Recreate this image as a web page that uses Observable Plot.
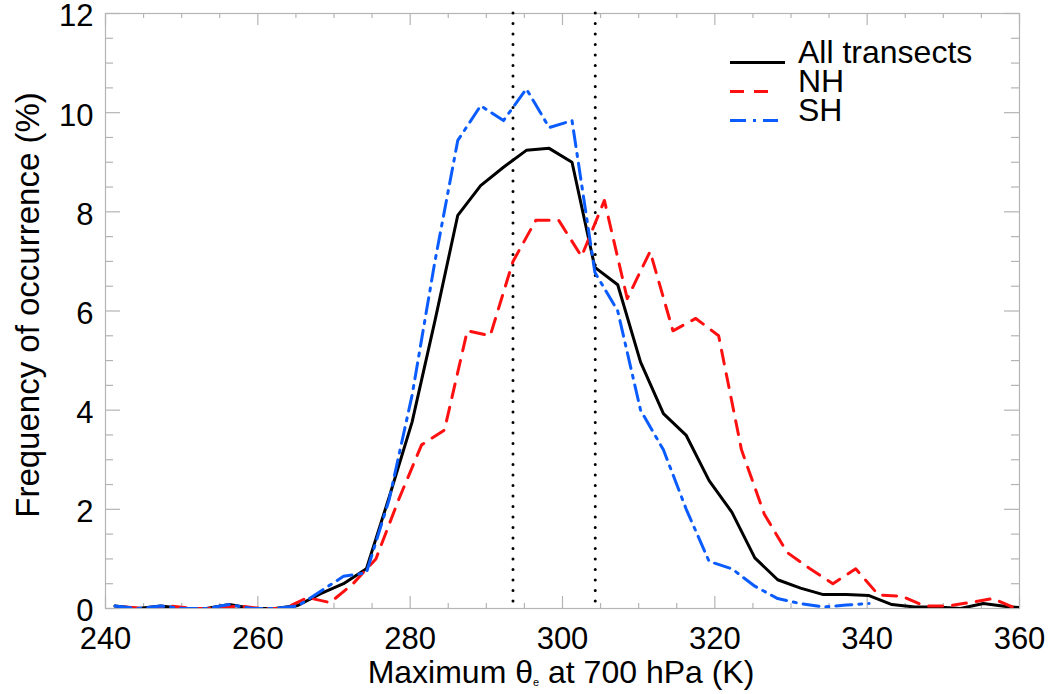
<!DOCTYPE html>
<html>
<head>
<meta charset="utf-8">
<script src="https://cdn.jsdelivr.net/npm/d3@7"></script>
<script src="https://cdn.jsdelivr.net/npm/@observablehq/plot@0.6"></script>
<style>
  html, body { margin: 0; padding: 0; background: #fff; }
  #wrap { position: relative; width: 1049px; height: 694px; font-family: "Liberation Sans", Arial, Helvetica, sans-serif; color: #000; }
  #wrap svg { display: block; }
  .ov { position: absolute; white-space: nowrap; line-height: 1; }
  .leg-row { position: absolute; left: 0; height: 29px; }
  .leg-text { position: absolute; white-space: nowrap; font-size: 32px; line-height: 28px; }
</style>
</head>
<body>
<div id="wrap"></div>
<script>
// ---------- data ----------
const xAll = [241.25, 244.25, 247.25, 250.25, 253.25, 256.25, 259.25, 262.25, 265.25, 268.25,
              271.25, 274.25, 277.25, 280.25, 283.25, 286.25, 289.25, 292.25, 295.25, 298.25,
              301.25, 304.25, 307.25, 310.25, 313.25, 316.25, 319.25, 322.25, 325.25, 328.25,
              331.25, 334.25, 337.25, 340.25, 343.25, 346.25, 349.25, 352.25, 355.25, 358.25, 361.25];
const allTransects = [0.05, 0.0, 0.05, 0.0, 0.0, 0.08, 0.0, 0.0, 0.06, 0.3,
                      0.5, 0.8, 2.25, 3.76, 5.8, 7.93, 8.53, 8.9, 9.24, 9.28,
                      9.0, 6.88, 6.53, 4.97, 3.93, 3.49, 2.58, 1.94, 1.02, 0.58,
                      0.41, 0.28, 0.28, 0.26, 0.08, 0.03, 0.03, 0.0, 0.1, 0.04, 0.0];

const xNH = [242.5, 245.5, 248.5, 251.5, 254.5, 257.5, 260.5, 263.5, 266.5, 269.5,
             272.5, 275.5, 278.5, 281.5, 284.5, 287.5, 290.5, 293.5, 296.5, 299.5,
             302.5, 305.5, 308.5, 311.5, 314.5, 317.5, 320.5, 323.5, 326.5, 329.5,
             332.5, 335.5, 338.5, 341.5, 344.5, 347.5, 350.5, 353.5, 356.5, 359.5];
const nh = [0.03, 0.0, 0.05, 0.0, 0.0, 0.05, 0.0, 0.0, 0.22, 0.12,
            0.5, 1.0, 2.2, 3.3, 3.6, 5.6, 5.5, 7.0, 7.83, 7.83,
            7.1, 8.23, 6.25, 7.2, 5.6, 5.85, 5.5, 3.2, 1.9, 1.13,
            0.8, 0.5, 0.8, 0.27, 0.25, 0.05, 0.05, 0.12, 0.2, 0.0];

const xSH = [241.25, 244.25, 247.25, 250.25, 253.25, 256.25, 259.25, 262.25, 265.25, 268.25,
             271.25, 274.25, 277.25, 280.25, 283.25, 286.25, 289.25, 292.25, 295.25, 298.25,
             301.25, 304.25, 307.25, 310.25, 313.25, 316.25, 319.25, 322.25, 325.25, 328.25,
             331.25, 334.25, 337.25, 340.25];
const sh = [0.05, 0.0, 0.05, 0.0, 0.0, 0.08, 0.0, 0.0, 0.05, 0.35,
            0.65, 0.72, 2.2, 4.3, 7.0, 9.44, 10.14, 9.84, 10.48, 9.7,
            9.84, 6.78, 6.0, 4.0, 3.2, 2.0, 0.95, 0.8, 0.45, 0.2,
            0.1, 0.03, 0.07, 0.1];

const dottedX = [293.5, 304.3];

const xMajorTicks = [240, 260, 280, 300, 320, 340, 360];
const xMinorTicks = [245, 250, 255, 265, 270, 275, 285, 290, 295, 305, 310, 315, 325, 330, 335, 345, 350, 355];
const yMajorTicks = [0, 2, 4, 6, 8, 10, 12];
const yMinorTicks = [0.5, 1, 1.5, 2.5, 3, 3.5, 4.5, 5, 5.5, 6.5, 7, 7.5, 8.5, 9, 9.5, 10.5, 11, 11.5];

const seriesNames = ["All transects", "NH", "SH"];
const seriesColors = ["#000000", "#ff1010", "#0a5cff"];
const seriesDash = [null, "14,10", "16,7,3,7"];

const xTitle = "Maximum θ";
const xTitleSub = "e";
const xTitleRest = " at 700 hPa (K)";
const yTitle = "Frequency of occurrence (%)";

// ---------- build ----------
const toRows = (xs, ys) => xs.map((x, i) => ({x, y: ys[i]}));
const rowsAll = toRows(xAll, allTransects);
const rowsNH = toRows(xNH, nh);
const rowsSH = toRows(xSH, sh);

const W = 1049, H = 694;
const mL = 105, mR = 30, mT = 13, mB = 86;
const innerW = W - mL - mR, innerH = H - mT - mB;
const tickColor = "#b4b4b4";
const tickStyle = {stroke: tickColor, strokeWidth: 1.2};
const xMajLen = 12, xMinLen = 5, yMajLen = 15, yMinLen = 8;

const chart = Plot.plot({
  width: W,
  height: H,
  marginLeft: mL,
  marginRight: mR,
  marginTop: mT,
  marginBottom: mB,
  style: {fontFamily: "'Liberation Sans', Arial, Helvetica, sans-serif", fontSize: "31px", background: "#fff", color: "#000", overflow: "visible"},
  x: {domain: [240, 360]},
  y: {domain: [0, 12]},
  marks: [
    Plot.frame({stroke: tickColor, strokeWidth: 1.2}),
    // inward ticks drawn as short rules hugging the frame
    Plot.ruleX(xMajorTicks, {x: d => d, insetTop: innerH - xMajLen, ...tickStyle}),
    Plot.ruleX(xMinorTicks, {x: d => d, insetTop: innerH - xMinLen, ...tickStyle}),
    Plot.ruleX(xMajorTicks, {x: d => d, insetBottom: innerH - xMajLen, ...tickStyle}),
    Plot.ruleX(xMinorTicks, {x: d => d, insetBottom: innerH - xMinLen, ...tickStyle}),
    Plot.ruleY(yMajorTicks, {y: d => d, insetRight: innerW - yMajLen, ...tickStyle}),
    Plot.ruleY(yMinorTicks, {y: d => d, insetRight: innerW - yMinLen, ...tickStyle}),
    Plot.ruleY(yMajorTicks, {y: d => d, insetLeft: innerW - yMajLen, ...tickStyle}),
    Plot.ruleY(yMinorTicks, {y: d => d, insetLeft: innerW - yMinLen, ...tickStyle}),
    // tick labels
    Plot.axisX({anchor: "bottom", ticks: xMajorTicks, tickSize: 0, tickPadding: 18, label: null, tickFormat: d3.format("d"), fill: "#000"}),
    Plot.axisY({anchor: "left", ticks: yMajorTicks, tickSize: 0, tickPadding: 12, dy: 3, label: null, tickFormat: d3.format("d"), fill: "#000"}),
    // dotted verticals
    Plot.ruleX(dottedX, {x: d => d, stroke: "#000", strokeWidth: 3, strokeDasharray: "0,10.5", strokeLinecap: "round"}),
    // series
    Plot.line(rowsAll, {x: "x", y: "y", stroke: seriesColors[0], strokeWidth: 3, clip: true}),
    Plot.line(rowsNH, {x: "x", y: "y", stroke: seriesColors[1], strokeWidth: 3, strokeDasharray: seriesDash[1], clip: true}),
    Plot.line(rowsSH, {x: "x", y: "y", stroke: seriesColors[2], strokeWidth: 3, strokeDasharray: seriesDash[2], clip: true})
  ]
});

const wrap = document.getElementById("wrap");
wrap.appendChild(chart);

// x title
const xt = document.createElement("div");
xt.className = "ov";
xt.style.fontSize = "32px";
xt.style.left = "561px";
xt.style.top = "656px";
xt.style.transform = "translateX(-50%)";
xt.appendChild(document.createTextNode(xTitle));
const sub = document.createElement("span");
sub.textContent = xTitleSub;
sub.style.fontSize = "11px";
sub.style.verticalAlign = "-3px";
xt.appendChild(sub);
xt.appendChild(document.createTextNode(xTitleRest));
wrap.appendChild(xt);

// y title
const yt = document.createElement("div");
yt.className = "ov";
yt.style.fontSize = "33px";
yt.textContent = yTitle;
yt.style.left = "27px";
yt.style.top = "305px";
yt.style.transform = "translate(-50%, -50%) rotate(-90deg)";
wrap.appendChild(yt);

// legend
const leg = document.createElement("div");
leg.style.position = "absolute";
leg.style.left = "730px";
leg.style.top = "37px";
wrap.appendChild(leg);
const ns = "http://www.w3.org/2000/svg";
seriesNames.forEach((name, i) => {
  const row = document.createElement("div");
  row.className = "leg-row";
  row.style.top = (i * 29) + "px";
  const s = document.createElementNS(ns, "svg");
  s.setAttribute("width", "60");
  s.setAttribute("height", "29");
  s.style.position = "absolute";
  s.style.left = "0px";
  s.style.top = "0px";
  const ln = document.createElementNS(ns, "line");
  ln.setAttribute("x1", "0");
  ln.setAttribute("x2", i === 0 ? "55" : (i === 1 ? "46" : "48"));
  ln.setAttribute("y1", "25.5");
  ln.setAttribute("y2", "25.5");
  ln.setAttribute("stroke", seriesColors[i]);
  ln.setAttribute("stroke-width", "3");
  if (seriesDash[i]) ln.setAttribute("stroke-dasharray", seriesDash[i]);
  s.appendChild(ln);
  row.appendChild(s);
  const t = document.createElement("div");
  t.className = "leg-text";
  t.textContent = name;
  t.style.left = "68px";
  t.style.top = "1px";
  row.appendChild(t);
  leg.appendChild(row);
});
</script>
</body>
</html>
